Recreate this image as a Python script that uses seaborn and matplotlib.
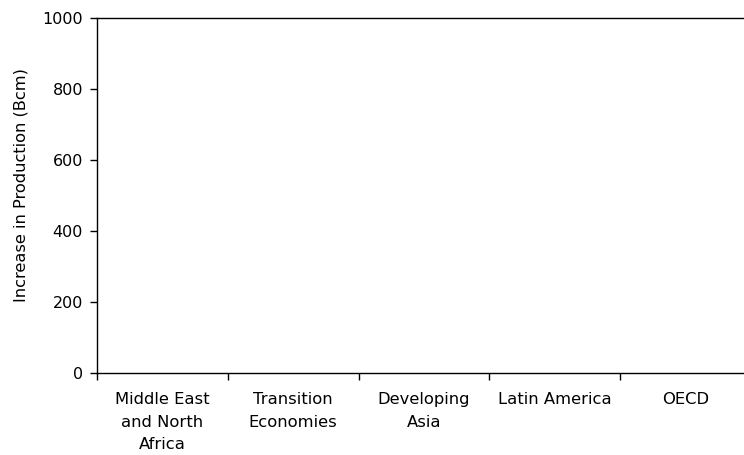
import matplotlib
matplotlib.use("Agg")
import matplotlib.pyplot as plt
import seaborn as sns
import numpy as np
import pandas as pd

categories = ["Middle East\nand North\nAfrica", "Transition\nEconomies", "Developing\nAsia", "Latin America", "OECD"]
values = [0, 0, 0, 0, 0]
y_ticks = [0, 200, 400, 600, 800, 1000]
y_label = "Increase in Production (Bcm)"

sns.set_theme(style="white")
plt.rcParams['font.family'] = ['DejaVu Sans']

fig = plt.figure(figsize=(7.44, 4.55), dpi=100)
ax = fig.add_axes([97/744, 82/455, 654/744, 355/455])

df = pd.DataFrame({"cat": categories, "val": values})
sns.barplot(data=df, x="cat", y="val", ax=ax, color="#4F81BD", linewidth=0, width=0.6)

ax.set_ylim(0, 1000)
ax.set_xlim(-0.5, len(categories) - 0.5)
ax.set_yticks(y_ticks)
ax.set_yticklabels([str(t) for t in y_ticks], fontsize=11.5, color="black")
ax.set_xticks(range(len(categories)))
ax.set_xticklabels(categories, fontsize=11.8, color="black", linespacing=1.62)
ax.set_xticks(np.arange(-0.5, len(categories), 1.0), minor=True)
ax.tick_params(axis="x", which="major", length=0, pad=14)
ax.tick_params(axis="x", which="minor", length=5, width=1, color="black", direction="out", bottom=True)
ax.tick_params(axis="y", length=5, width=1, color="black", direction="out", left=True, pad=5)
ax.set_xlabel("")
ax.set_ylabel(y_label, fontsize=11.7, color="black")
ax.yaxis.set_label_coords(-0.105, 0.53)

for s in ["left", "bottom", "top"]:
    ax.spines[s].set_visible(True)
    ax.spines[s].set_color("black")
    ax.spines[s].set_linewidth(1)
ax.spines["right"].set_visible(False)
ax.grid(False)
ax.set_facecolor("white")
fig.patch.set_facecolor("white")

fig.savefig("out.png", dpi=100)
